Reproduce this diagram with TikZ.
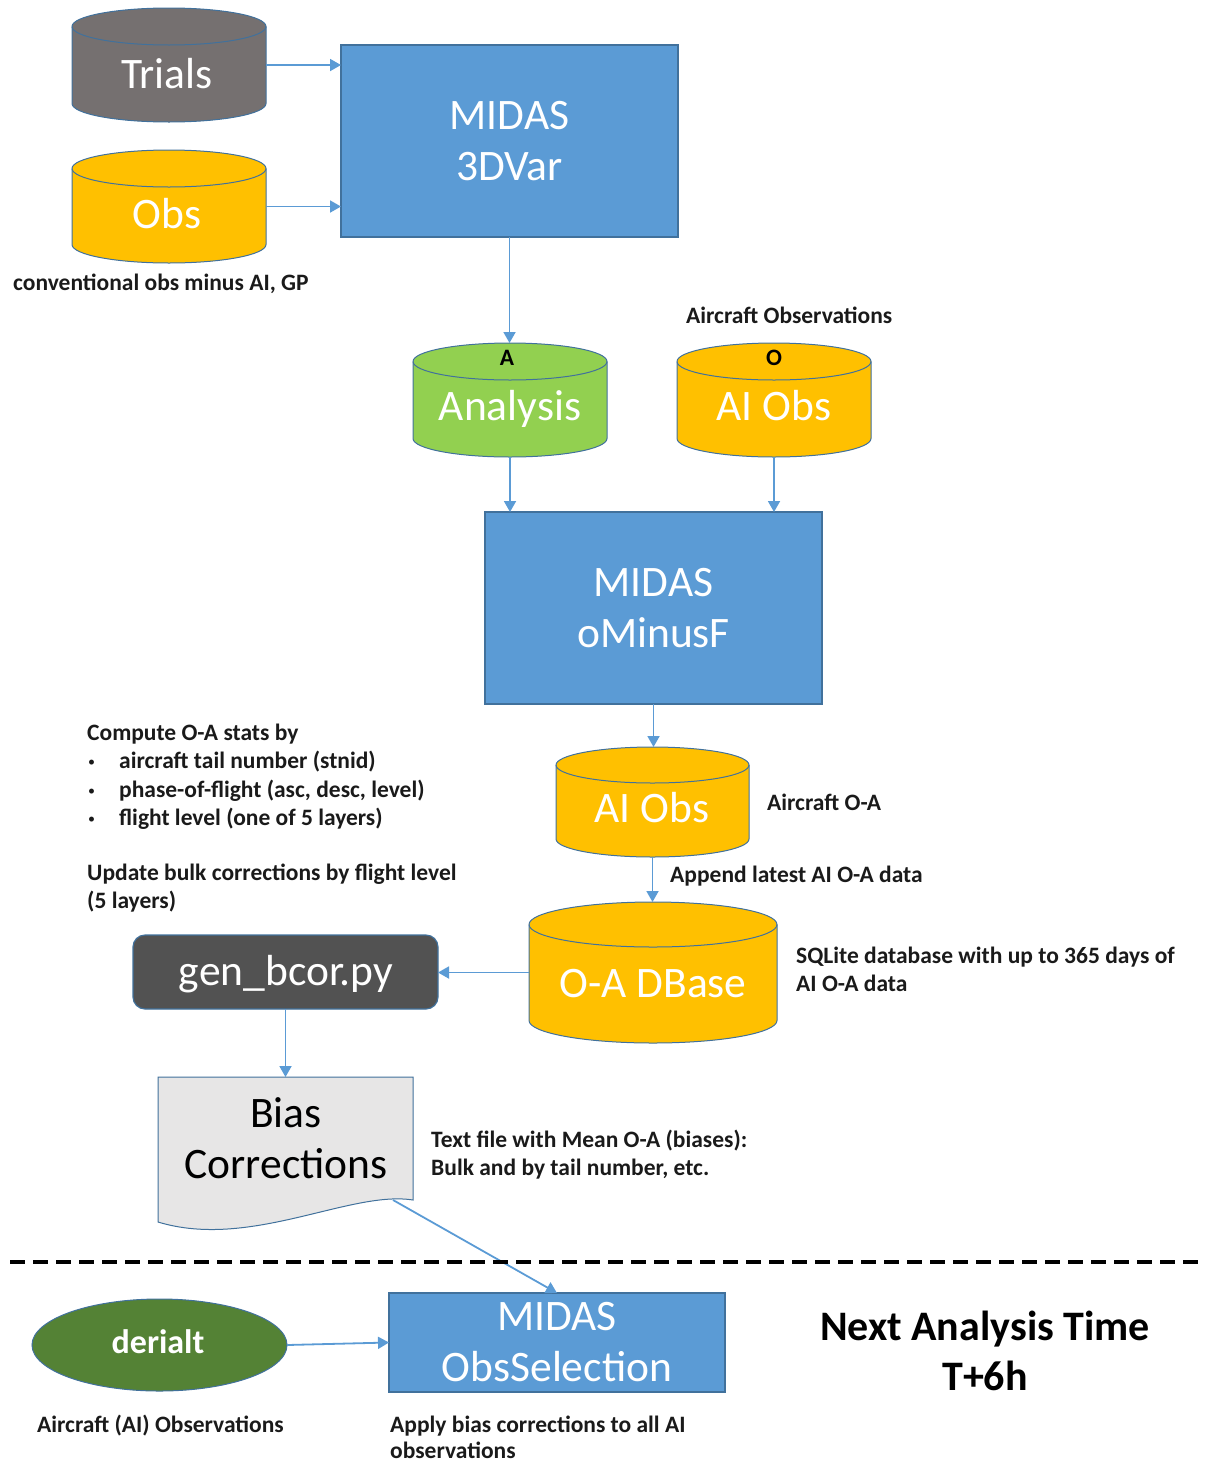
\documentclass[tikz,border=0pt]{standalone}
\usepackage{fontspec}
\setmainfont{Carlito}
\usetikzlibrary{arrows.meta,shapes.geometric,calc}
\definecolor{boxblue}{HTML}{5B9BD5}
\definecolor{edge}{HTML}{41719C}
\definecolor{arrowc}{HTML}{5B9BD5}
\definecolor{trialgray}{HTML}{757070}
\definecolor{obsyellow}{HTML}{FFC000}
\definecolor{anagreen}{HTML}{92D050}
\definecolor{gendark}{HTML}{525252}
\definecolor{dgreen}{HTML}{548235}
\definecolor{docgray}{HTML}{E7E6E6}
\definecolor{labelc}{HTML}{1A1A1A}
\newcommand\dbcyl[4]{%
  \path[fill=#2, draw=edge, line width=1pt]
    ([yshift=-#3pt]#1.north west) -- ([yshift=#3pt]#1.south west)
    arc[start angle=180, end angle=360, x radius=#4pt/2, y radius=#3pt]
    -- ([yshift=-#3pt]#1.north east)
    arc[start angle=0, end angle=180, x radius=#4pt/2, y radius=#3pt] -- cycle;
  \draw[edge, line width=1pt] ([yshift=-#3pt]#1.north west)
    arc[start angle=180, end angle=360, x radius=#4pt/2, y radius=#3pt];
}
\begin{document}
\begin{tikzpicture}[x=1pt,y=1pt,
  holder/.style={inner sep=0, outer sep=0},
  bluebox/.style={holder, rectangle, fill=boxblue, draw=edge, line width=1.2pt,
    text=white, align=center, font=\fontsize{43.5}{51}\selectfont},
  arr/.style={draw=arrowc, line width=1.8pt, -{Triangle[length=11pt,width=12pt]}},
  bigw/.style={inner sep=0, text=white, font=\fontsize{43.5}{51}\selectfont},
  bigk/.style={inner sep=0, text=black, font=\fontsize{43.5}{51}\selectfont},
  bigbold/.style={inner sep=0, text=black, font=\fontsize{42}{51}\selectfont\bfseries},
  lbl/.style={inner sep=0, anchor=base west, text=labelc, font=\fontsize{23.5}{28}\selectfont\bfseries},
  bul/.style={inner sep=0, anchor=base west, text=labelc, font=\fontsize{14}{14}\selectfont},
  tiny/.style={inner sep=0, anchor=base, text=black, font=\fontsize{23.5}{28}\selectfont\bfseries},
  dashline/.style={draw=black, line width=3.2pt, dash pattern=on 15pt off 8pt}
]
\useasboundingbox (0,0) rectangle (1206,-1465);

% ---- holder nodes for cylinders
\node[holder, minimum width=194pt, minimum height=114pt] (trials) at (169,-65) {};
\node[holder, minimum width=194pt, minimum height=113pt] (obs) at (169,-206.5) {};
\node[holder, minimum width=194pt, minimum height=114pt] (analysis) at (510,-400) {};
\node[holder, minimum width=194pt, minimum height=114pt] (aiobs) at (774,-400) {};
\node[holder, minimum width=193pt, minimum height=110pt] (aiobs2) at (652.5,-802) {};
\node[holder, minimum width=248pt, minimum height=141pt] (dbase) at (653,-972.5) {};

\dbcyl{trials}{trialgray}{18.5}{194}
\dbcyl{obs}{obsyellow}{18.5}{194}
\dbcyl{analysis}{anagreen}{18.5}{194}
\dbcyl{aiobs}{obsyellow}{18.5}{194}
\dbcyl{aiobs2}{obsyellow}{18}{193}
\dbcyl{dbase}{obsyellow}{22.5}{248}

\node[bigw, anchor=base] (ttrials) at (167,-88) {Trials};
\node[bigw, anchor=base] (tobs) at (167,-228) {Obs};
\node[bigw, anchor=base] (tana) at (510,-420) {Analysis};
\node[bigw, anchor=base] (taiobs) at (774,-420) {AI Obs};
\node[tiny] (ta) at (507,-365) {A};
\node[tiny] (to) at (774,-365) {O};
\node[bigw, anchor=base] (taiobs2) at (652,-822) {AI Obs};
\node[bigw, anchor=base] (tdbase) at (653,-997) {O-A DBase};

% ---- process boxes
\node[bluebox, minimum width=337pt, minimum height=192pt] (mid1) at (509.5,-141) {MIDAS\\3DVar};
\node[bluebox, minimum width=337pt, minimum height=192pt] (mid2) at (653.5,-608) {MIDAS\\oMinusF};
\node[bluebox, minimum width=336pt, minimum height=99pt] (obssel) at (557,-1342.5) {MIDAS\\ObsSelection};

\node[holder, rectangle, rounded corners=12pt, fill=gendark, draw=edge, line width=1.2pt,
  minimum width=305pt, minimum height=74pt] (gen) at (285.5,-972) {};
\node[bigw, anchor=base] (tgen) at (286,-985) {gen\_bcor.py};

% ---- document shape
\node[holder, minimum width=255pt, minimum height=151pt] (bias) at (285.5,-1152.5) {};
\path[fill=docgray, draw=edge, line width=1pt]
  (bias.north west) -- (bias.north east) -- (413,-1200)
  .. controls (350,-1190) and (250,-1250) .. (158,-1222) -- cycle;
\node[bigk, align=center] (tbias) at (286,-1138) {Bias\\Corrections};
\coordinate (biasout) at (393,-1200);

% ---- derialt
\node[holder, ellipse, fill=dgreen, draw=edge, line width=1pt,
  minimum width=255pt, minimum height=92pt] (derialt) at (159.5,-1345) {};
\node[inner sep=0, anchor=base, text=white, font=\fontsize{34}{40}\selectfont\bfseries] (tder) at (158,-1353) {derialt};

% ---- connectors
\draw[arr] (trials.east) -- (trials.east -| mid1.west);
\draw[arr] (obs.east) -- (obs.east -| mid1.west);
\draw[arr] (mid1.south) -- (mid1.south |- analysis.north);
\draw[arr] (analysis.south) -- (analysis.south |- mid2.north);
\draw[arr] (aiobs.south) -- (aiobs.south |- mid2.north);
\draw[arr] (mid2.south) -- (mid2.south |- aiobs2.north);
\draw[arr] (aiobs2.south) -- (aiobs2.south |- dbase.north);
\draw[arr] (dbase.west) -- (dbase.west -| gen.east);
\draw[arr] (gen.south) -- (gen.south |- bias.north);
\draw[arr] (biasout) -- (obssel.north);
\draw[arr] (derialt.east) -- (obssel.west);

% ---- dashed separator
\draw[dashline] (10,-1262) -- (1206,-1262);

% ---- labels
\node[lbl] (l1) at (13,-290) {conventional obs minus AI, GP};
\node[lbl] (l2) at (686,-323) {Aircraft Observations};
\node[lbl] (l3) at (87,-740) {Compute O-A stats by};
\node[bul] (b1) at (88,-766) {\textbullet};
\node[lbl] (l4) at (119,-768) {aircraft tail number (stnid)};
\node[bul] (b2) at (88,-795) {\textbullet};
\node[lbl] (l5) at (119,-797) {phase-of-flight (asc, desc, level)};
\node[bul] (b3) at (88,-823) {\textbullet};
\node[lbl] (l6) at (119,-825) {flight level (one of 5 layers)};
\node[lbl] (l7) at (87,-880) {Update bulk corrections by flight level};
\node[lbl] (l8) at (87,-908) {(5 layers)};
\node[lbl] (l9) at (767,-810) {Aircraft O-A};
\node[lbl] (l10) at (670,-882) {Append latest AI O-A data};
\node[lbl] (l11) at (796,-963) {SQLite database with up to 365 days of};
\node[lbl] (l12) at (796,-991) {AI O-A data};
\node[lbl] (l13) at (431,-1147) {Text file with Mean O-A (biases):};
\node[lbl] (l14) at (431,-1175) {Bulk and by tail number, etc.};
\node[lbl] (l15) at (37,-1432) {Aircraft (AI) Observations};
\node[lbl] (l16) at (390,-1432) {Apply bias corrections to all AI};
\node[lbl] (l17) at (390,-1458) {observations};
\node[bigbold, anchor=base] (n1) at (985,-1340) {Next Analysis Time};
\node[bigbold, anchor=base] (n2) at (985,-1390) {T+6h};
\end{tikzpicture}
\end{document}
